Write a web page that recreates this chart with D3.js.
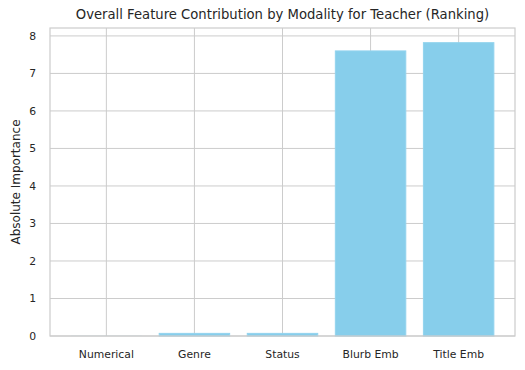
<!DOCTYPE html>
<html>
<head>
<meta charset="utf-8">
<script src="https://cdn.jsdelivr.net/npm/d3@7"></script>
<style>
  body { margin: 0; background: #fff; }
  svg text { font-family: "DejaVu Sans", sans-serif; fill: #262626; }
</style>
</head>
<body>
<div id="chart"></div>
<script>
var categories = ["Numerical", "Genre", "Status", "Blurb Emb", "Title Emb"];
var importance = [0.003, 0.07, 0.07, 7.6, 7.82];
var yTicks = [0, 1, 2, 3, 4, 5, 6, 7, 8];

var W = 525, H = 370;
var margin = {top: 28, right: 10, bottom: 34, left: 50},
    width = W - margin.left - margin.right,
    height = H - margin.top - margin.bottom;

var svg = d3.select("#chart").append("svg")
    .attr("width", W)
    .attr("height", H);

var g = svg.append("g")
    .attr("transform", "translate(" + margin.left + "," + margin.top + ")");

// matplotlib style: bar width 0.8, 5% margins
var x = d3.scaleLinear()
  .domain([-0.64, categories.length - 1 + 0.64])
  .range([0, width]);

var y = d3.scaleLinear()
  .domain([0, d3.max(importance) * 1.05])
  .range([height, 0]);

// grid
g.selectAll(".vgrid")
  .data(categories)
  .enter().append("line")
    .attr("x1", function(d, i) { return x(i); })
    .attr("x2", function(d, i) { return x(i); })
    .attr("y1", 0)
    .attr("y2", height)
    .attr("stroke", "#cccccc")
    .attr("stroke-width", 1);

g.selectAll(".hgrid")
  .data(yTicks)
  .enter().append("line")
    .attr("x1", 0)
    .attr("x2", width)
    .attr("y1", function(d) { return y(d); })
    .attr("y2", function(d) { return y(d); })
    .attr("stroke", "#cccccc")
    .attr("stroke-width", 1);

// bars
g.selectAll(".bar")
  .data(importance)
  .enter().append("rect")
    .attr("class", "bar")
    .attr("x", function(d, i) { return x(i - 0.4); })
    .attr("width", x(0.8) - x(0))
    .attr("y", function(d) { return y(d); })
    .attr("height", function(d) { return height - y(d); })
    .attr("fill", "#87CEEB")
    .attr("stroke", function(d) { return d > 0.01 ? "#92d3ee" : "none"; })
    .attr("stroke-width", 1);

// frame
g.append("rect")
  .attr("width", width)
  .attr("height", height)
  .attr("fill", "none")
  .attr("stroke", "#cccccc")
  .attr("stroke-width", 1.2);

// tick labels
g.selectAll(".xlab")
  .data(categories)
  .enter().append("text")
    .attr("x", function(d, i) { return x(i); })
    .attr("y", height + 22)
    .attr("text-anchor", "middle")
    .style("font-size", "10.8px")
    .text(function(d) { return d; });

g.selectAll(".ylab")
  .data(yTicks)
  .enter().append("text")
    .attr("x", -14)
    .attr("y", function(d) { return y(d); })
    .attr("dy", "0.35em")
    .attr("text-anchor", "end")
    .style("font-size", "10.8px")
    .text(function(d) { return d; });

// axis title
svg.append("text")
  .attr("transform", "translate(19.5," + (margin.top + height / 2) + ") rotate(-90)")
  .attr("text-anchor", "middle")
  .style("font-size", "12px")
  .text("Absolute Importance");

svg.append("text")
  .attr("x", margin.left + width / 2)
  .attr("y", 19)
  .attr("text-anchor", "middle")
  .style("font-size", "13.2px")
  .text("Overall Feature Contribution by Modality for Teacher (Ranking)");
</script>
</body>
</html>
